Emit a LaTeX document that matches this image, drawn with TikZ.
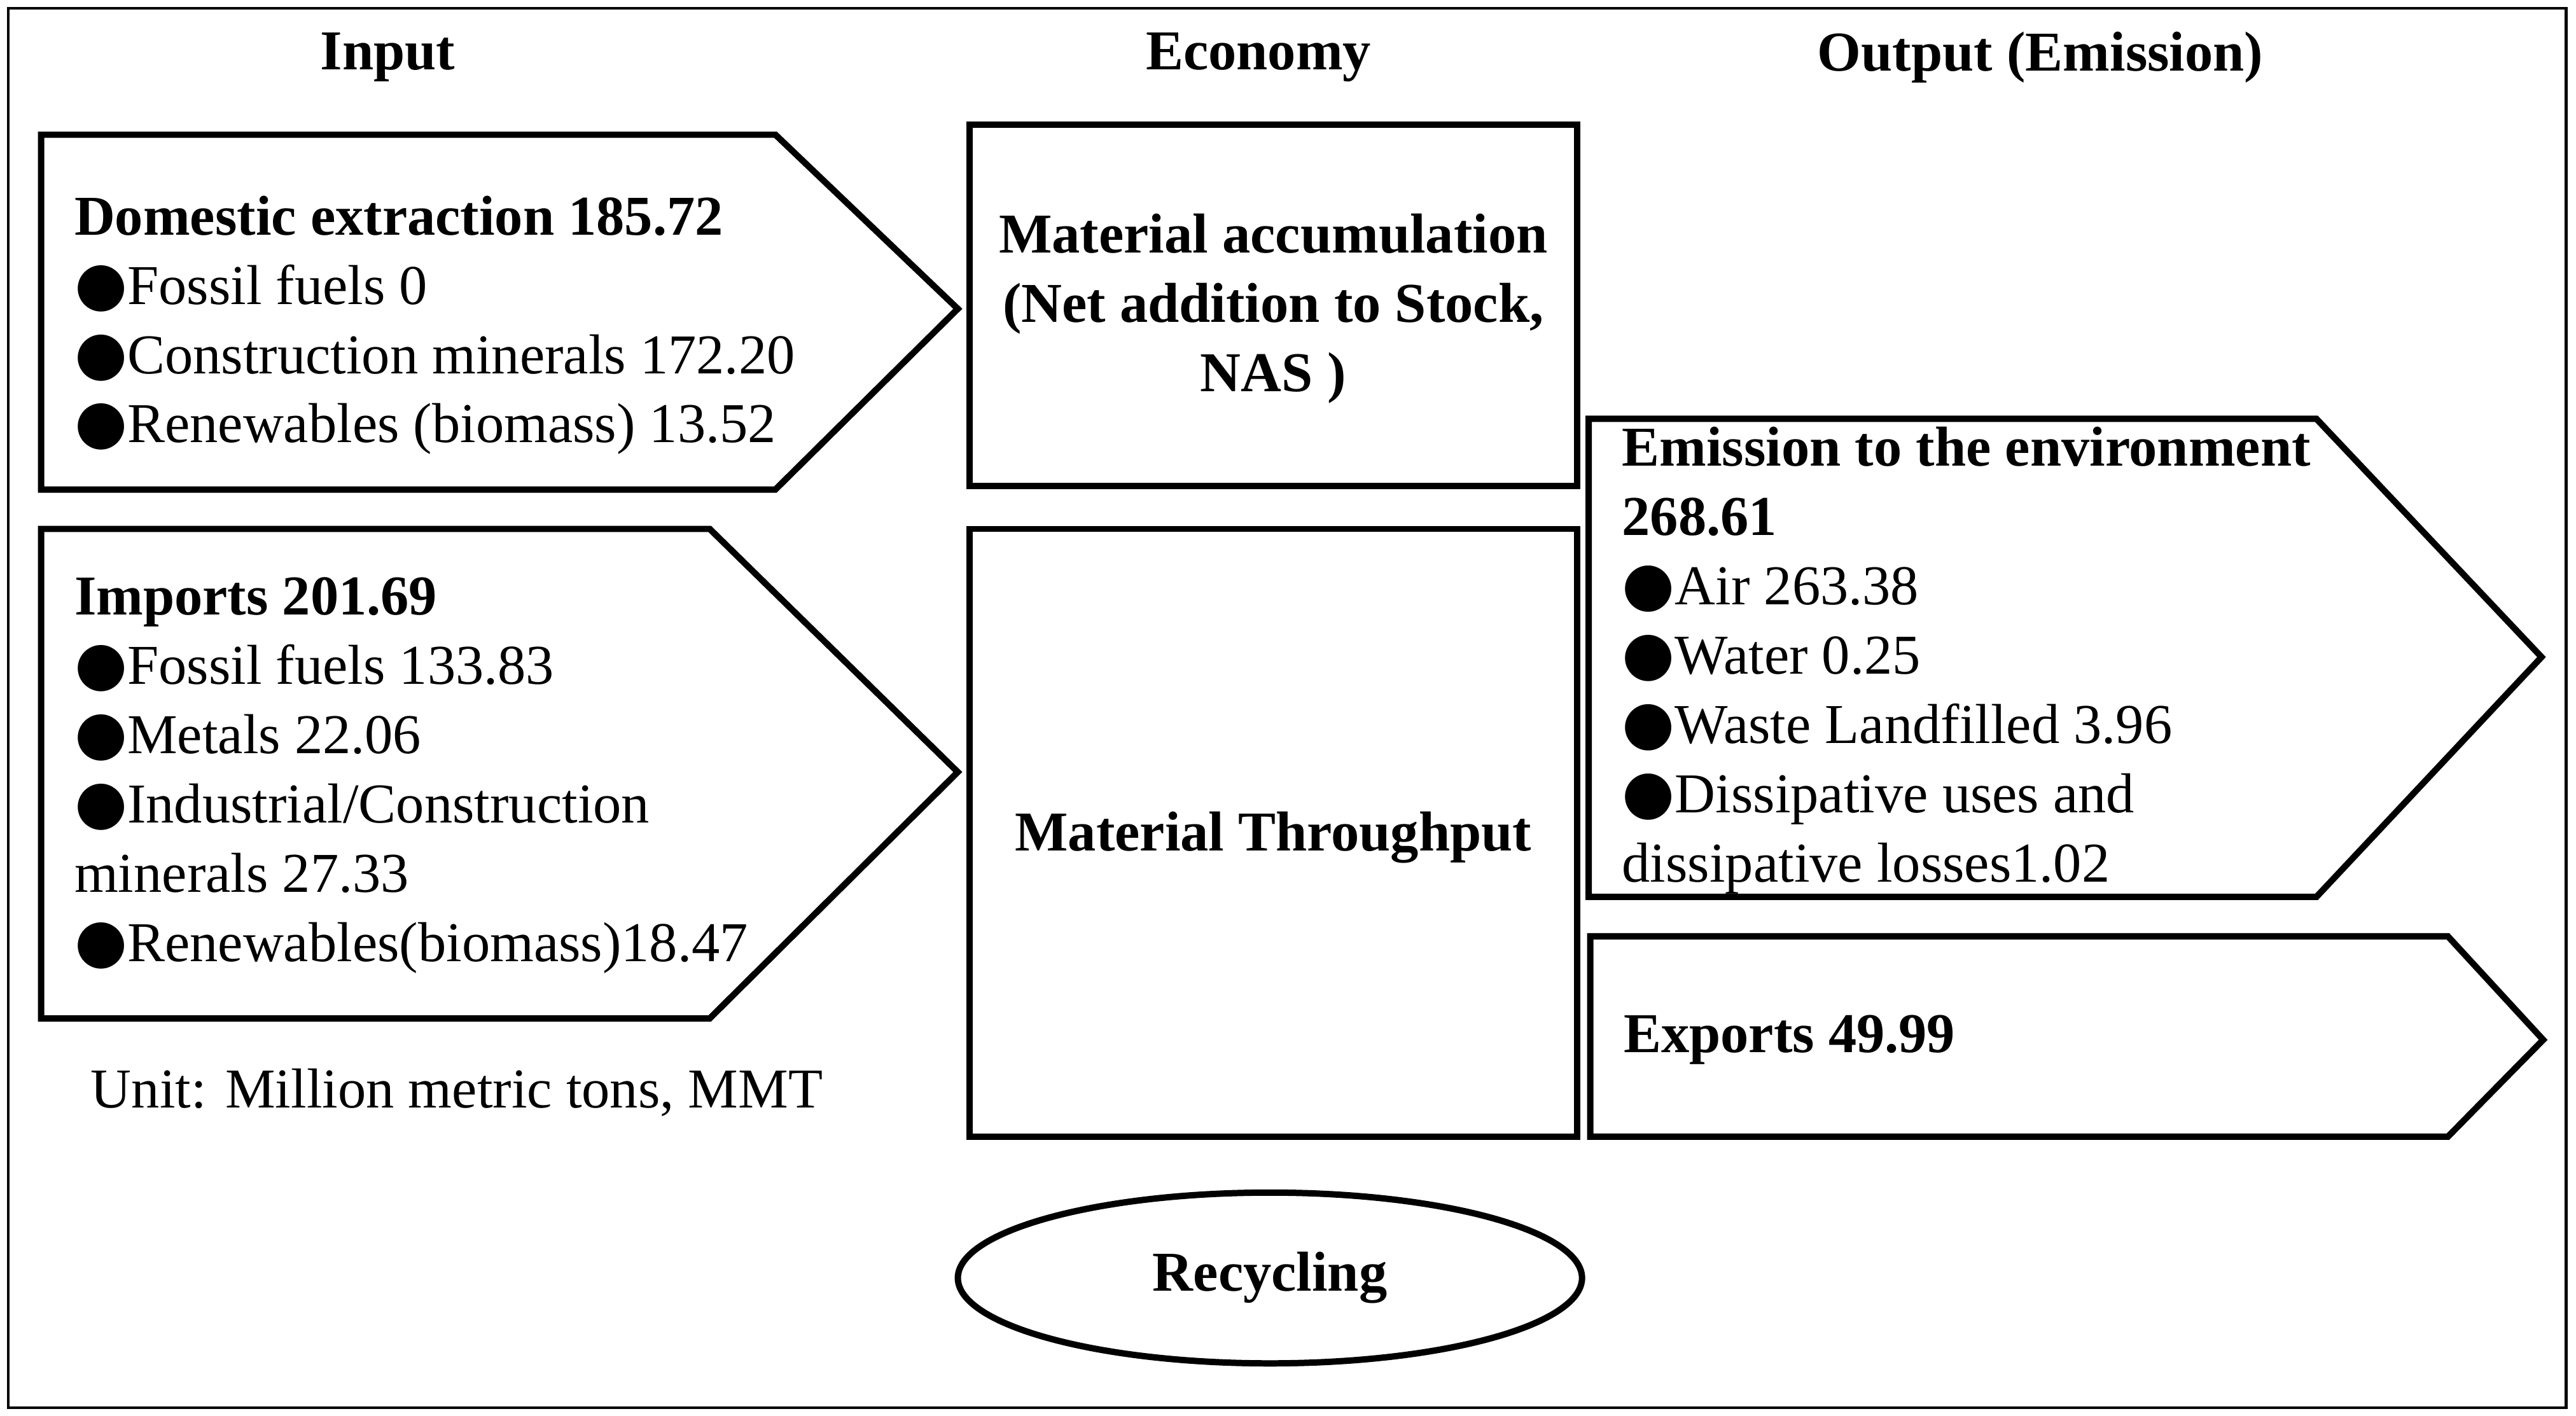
\documentclass[tikz,border=0pt]{standalone}
\usepackage{fontspec}
\setmainfont{Liberation Serif}
\newfontfamily\bulfont{DejaVu Sans}
\newcommand\bul{{\bulfont\fontsize{21}{21}\selectfont ●}}
\usetikzlibrary{shapes.geometric}
\begin{document}
\begin{tikzpicture}[x=0.02cm,y=-0.02cm,
  shp/.style={draw,line width=2.2pt,line join=miter},
  txt/.style={font=\fontsize{19.5}{24}\selectfont,align=left,inner sep=0pt},
  hd/.style={font=\fontsize{19.5}{24}\selectfont\bfseries,inner sep=0pt,align=center}]
\useasboundingbox (0,0) rectangle (1568,862);
\draw[line width=1pt] (5,5) rectangle (1562,857);
\node[hd] (hin) at (236,35) {Input};
\node[hd] (hec) at (766,35) {Economy};
\node[hd] (hout) at (1242,35) {Output (Emission)};
\draw[shp] (25,82) -- (472,82) -- (583,188) -- (472,298) -- (25,298) -- cycle;
\draw[shp] (25,322) -- (432,322) -- (583,470) -- (432,620) -- (25,620) -- cycle;
\draw[shp] (590,76) rectangle (960,296);
\draw[shp] (590,322) rectangle (960,692);
\draw[shp] (967,255) -- (1410,255) -- (1547,400) -- (1410,546) -- (967,546) -- cycle;
\draw[shp] (968,570) -- (1490,570) -- (1548,633) -- (1490,692) -- (968,692) -- cycle;
\node[shp,ellipse,minimum width=7.6cm,minimum height=2.08cm,inner sep=0pt,font=\fontsize{19.5}{24}\selectfont\bfseries] (rec) at (773,778) {Recycling};
\node[txt,anchor=west] (dom) at (45,198) {\textbf{Domestic extraction 185.72}\\\bul Fossil fuels 0\\\bul Construction minerals 172.20\\\bul Renewables (biomass) 13.52};
\node[txt,anchor=west] (imp) at (45,472) {\textbf{Imports 201.69}\\\bul Fossil fuels 133.83\\\bul Metals 22.06\\\bul Industrial/Construction\\minerals 27.33\\\bul Renewables(biomass)18.47};
\node[txt,anchor=west] (unit) at (55,665) {Unit: Million metric tons, MMT};
\node[hd] (acc) at (775,188) {Material accumulation\\(Net addition to Stock,\\NAS )};
\node[hd] (thr) at (775,510) {Material Throughput};
\node[txt,anchor=west] (em) at (987,402) {\textbf{Emission to the environment}\\\textbf{268.61}\\\bul Air 263.38\\\bul Water 0.25\\\bul Waste Landfilled 3.96\\\bul Dissipative uses and\\dissipative losses1.02};
\node[txt,anchor=west] (ex) at (988,633) {\textbf{Exports 49.99}};
\end{tikzpicture}
\end{document}
